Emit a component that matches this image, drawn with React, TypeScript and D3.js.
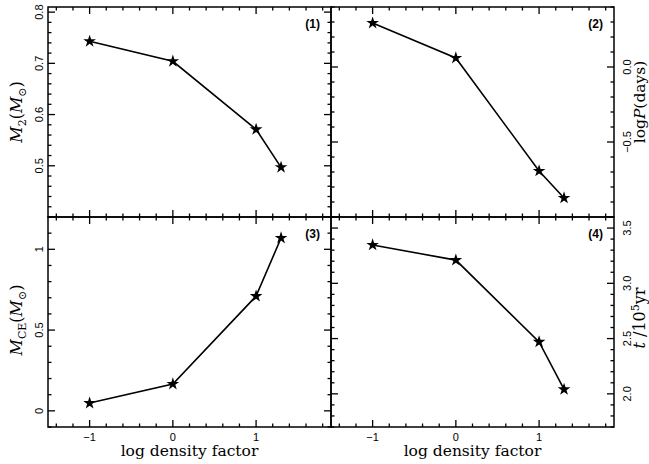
import React from "react";
import * as d3 from "d3";

const xValues = [-1, 0, 1, 1.3];
const m2Values = [0.743, 0.704, 0.571, 0.497];
const logPValues = [0.293, 0.06, -0.693, -0.873];
const mceValues = [0.048, 0.166, 0.71, 1.07];
const tValues = [3.347, 3.21, 2.47, 2.04];

const xTickLabels = [-1, 0, 1];
const m2TickLabels = [0.5, 0.6, 0.7, 0.8];
const logPTickLabels = [0.0, -0.5];
const mceTickLabels = [0, 0.5, 1];
const tTickLabels = [2.0, 2.5, 3.0, 3.5];

const X0 = 48, XM = 331, X1 = 614;
const Y0 = 7, YM = 217, Y1 = 427;

const SERIF = "DejaVu Serif, Liberation Serif, serif";
const SANS = "Liberation Sans, Arial, sans-serif";

const fmtMinus = (s: string) => s.replace("-", "\u2212");

type Panel = {
  id: string;
  x: [number, number];
  y: [number, number];
  yDomain: [number, number];
  values: number[];
  minor: number;
  major: number;
  labels: number[];
  fmt: (v: number) => string;
  side: "left" | "right";
  title: React.ReactNode;
  titleSize: number;
  titleShift: number;
  tag: string;
  bottom: boolean;
};

const panels: Panel[] = [
  {
    id: "p1", x: [X0, XM], y: [Y0, YM], yDomain: [0.4, 0.81], values: m2Values,
    minor: 0.02, major: 0.1, labels: m2TickLabels, fmt: (v) => v.toFixed(1),
    side: "left", tag: "(1)", bottom: false, titleSize: 16, titleShift: 0,
    title: (
      <>
        <tspan fontStyle="italic">M</tspan>
        <tspan fontSize="11" dy="4">2</tspan>
        <tspan dy="-4">(</tspan>
        <tspan fontStyle="italic">M</tspan>
        <tspan fontSize="11" dy="4">⊙</tspan>
        <tspan dy="-4">)</tspan>
      </>
    ),
  },
  {
    id: "p2", x: [XM, X1], y: [Y0, YM], yDomain: [-1.0, 0.4], values: logPValues,
    minor: 0.1, major: 0.5, labels: logPTickLabels, fmt: (v) => fmtMinus(v.toFixed(1)),
    side: "right", tag: "(2)", bottom: false, titleSize: 15.5, titleShift: -10,
    title: (
      <>
        <tspan>log</tspan>
        <tspan fontStyle="italic">P</tspan>
        <tspan>(days)</tspan>
      </>
    ),
  },
  {
    id: "p3", x: [X0, XM], y: [YM, Y1], yDomain: [-0.1, 1.2], values: mceValues,
    minor: 0.1, major: 0.5, labels: mceTickLabels, fmt: (v) => String(v),
    side: "left", tag: "(3)", bottom: true, titleSize: 16, titleShift: -2,
    title: (
      <>
        <tspan fontStyle="italic">M</tspan>
        <tspan fontSize="11" dy="4">CE</tspan>
        <tspan dy="-4">(</tspan>
        <tspan fontStyle="italic">M</tspan>
        <tspan fontSize="11" dy="4">⊙</tspan>
        <tspan dy="-4">)</tspan>
      </>
    ),
  },
  {
    id: "p4", x: [XM, X1], y: [YM, Y1], yDomain: [1.7, 3.6], values: tValues,
    minor: 0.1, major: 0.5, labels: tTickLabels, fmt: (v) => v.toFixed(1),
    side: "right", tag: "(4)", bottom: true, titleSize: 16, titleShift: -4,
    title: (
      <>
        <tspan fontStyle="italic">t</tspan>
        <tspan> /10</tspan>
        <tspan fontSize="11" dy="-6">5</tspan>
        <tspan dy="6">yr</tspan>
      </>
    ),
  },
];

const xDomain: [number, number] = [-1.5, 1.9];

function tickRange(domain: [number, number], step: number): number[] {
  const out: number[] = [];
  const start = Math.ceil(domain[0] / step - 1e-6);
  const end = Math.floor(domain[1] / step + 1e-6);
  for (let i = start; i <= end; i++) out.push(+(i * step).toFixed(6));
  return out;
}

function isMajor(v: number, major: number) {
  const r = v / major;
  return Math.abs(r - Math.round(r)) < 1e-6;
}

const MAJ = 7;
const MIN = 3.5;

function PanelView({ p }: { p: Panel }) {
  const xs = d3.scaleLinear().domain(xDomain).range(p.x);
  const ys = d3.scaleLinear().domain(p.yDomain).range([p.y[1], p.y[0]]);
  const line = d3.line<number>().x((_, i) => xs(xValues[i])).y((d) => ys(d));
  const star = d3.symbol().type(d3.symbolStar).size(50)();
  const xt = tickRange(xDomain, 0.2);
  const yt = tickRange(p.yDomain, p.minor);
  const sw = 1.3;
  return (
    <g>
      {xt.map((v) => {
        const L = isMajor(v, 1) ? MAJ : MIN;
        const x = xs(v);
        return (
          <g key={"x" + v}>
            <line x1={x} x2={x} y1={p.y[1]} y2={p.y[1] - L} stroke="#000" strokeWidth={sw} />
            <line x1={x} x2={x} y1={p.y[0]} y2={p.y[0] + L} stroke="#000" strokeWidth={sw} />
          </g>
        );
      })}
      {yt.map((v) => {
        const L = isMajor(v, p.major) ? MAJ : MIN;
        const y = ys(v);
        return (
          <g key={"y" + v}>
            <line x1={p.x[0]} x2={p.x[0] + L} y1={y} y2={y} stroke="#000" strokeWidth={sw} />
            <line x1={p.x[1]} x2={p.x[1] - L} y1={y} y2={y} stroke="#000" strokeWidth={sw} />
          </g>
        );
      })}
      <rect x={p.x[0]} y={p.y[0]} width={p.x[1] - p.x[0]} height={p.y[1] - p.y[0]} fill="none" stroke="#000" strokeWidth={1.5} />
      {p.labels.map((v) => {
        const tx = p.side === "left" ? p.x[0] - 5 : p.x[1] + 17;
        const y = ys(v);
        return (
          <text key={"l" + v} x={tx} y={y} transform={`rotate(-90 ${tx} ${y})`} textAnchor="middle" fontFamily={SANS} fontSize={11} fill="#000">
            {p.fmt(v)}
          </text>
        );
      })}
      {p.bottom && xTickLabels.map((v) => (
        <text key={"xl" + v} x={xs(v)} y={p.y[1] + 14} textAnchor="middle" fontFamily={SANS} fontSize={11} fill="#000">
          {fmtMinus(String(v))}
        </text>
      ))}
      {p.bottom && (
        <text x={(p.x[0] + p.x[1]) / 2} y={p.y[1] + 29} textAnchor="middle" fontFamily={SERIF} fontSize={15.5} fill="#000">
          log density factor
        </text>
      )}
      {(() => {
        const tx = p.side === "left" ? 22 : p.x[1] + 30.5;
        const ty = (p.y[0] + p.y[1]) / 2 + p.titleShift;
        return (
          <text x={tx} y={ty} transform={`rotate(-90 ${tx} ${ty})`} textAnchor="middle" fontFamily={SERIF} fontSize={p.titleSize} fill="#000">
            {p.title}
          </text>
        );
      })()}
      <text x={p.x[1] - 11} y={p.y[0] + 21} textAnchor="end" fontFamily={SANS} fontWeight="bold" fontSize={12} fill="#000">
        {p.tag}
      </text>
      <path d={line(p.values) || ""} fill="none" stroke="#000" strokeWidth={1.6} />
      {p.values.map((v, i) => (
        <path key={"s" + i} d={star || ""} transform={`translate(${xs(xValues[i])},${ys(v)})`} fill="#000" />
      ))}
    </g>
  );
}

export default function App() {
  return (
    <svg width={649} height={464} style={{ position: "absolute", left: 0, top: 0, background: "#fff" }}>
      <rect width={649} height={464} fill="#fff" />
      {panels.map((p) => (
        <PanelView key={p.id} p={p} />
      ))}
    </svg>
  );
}
